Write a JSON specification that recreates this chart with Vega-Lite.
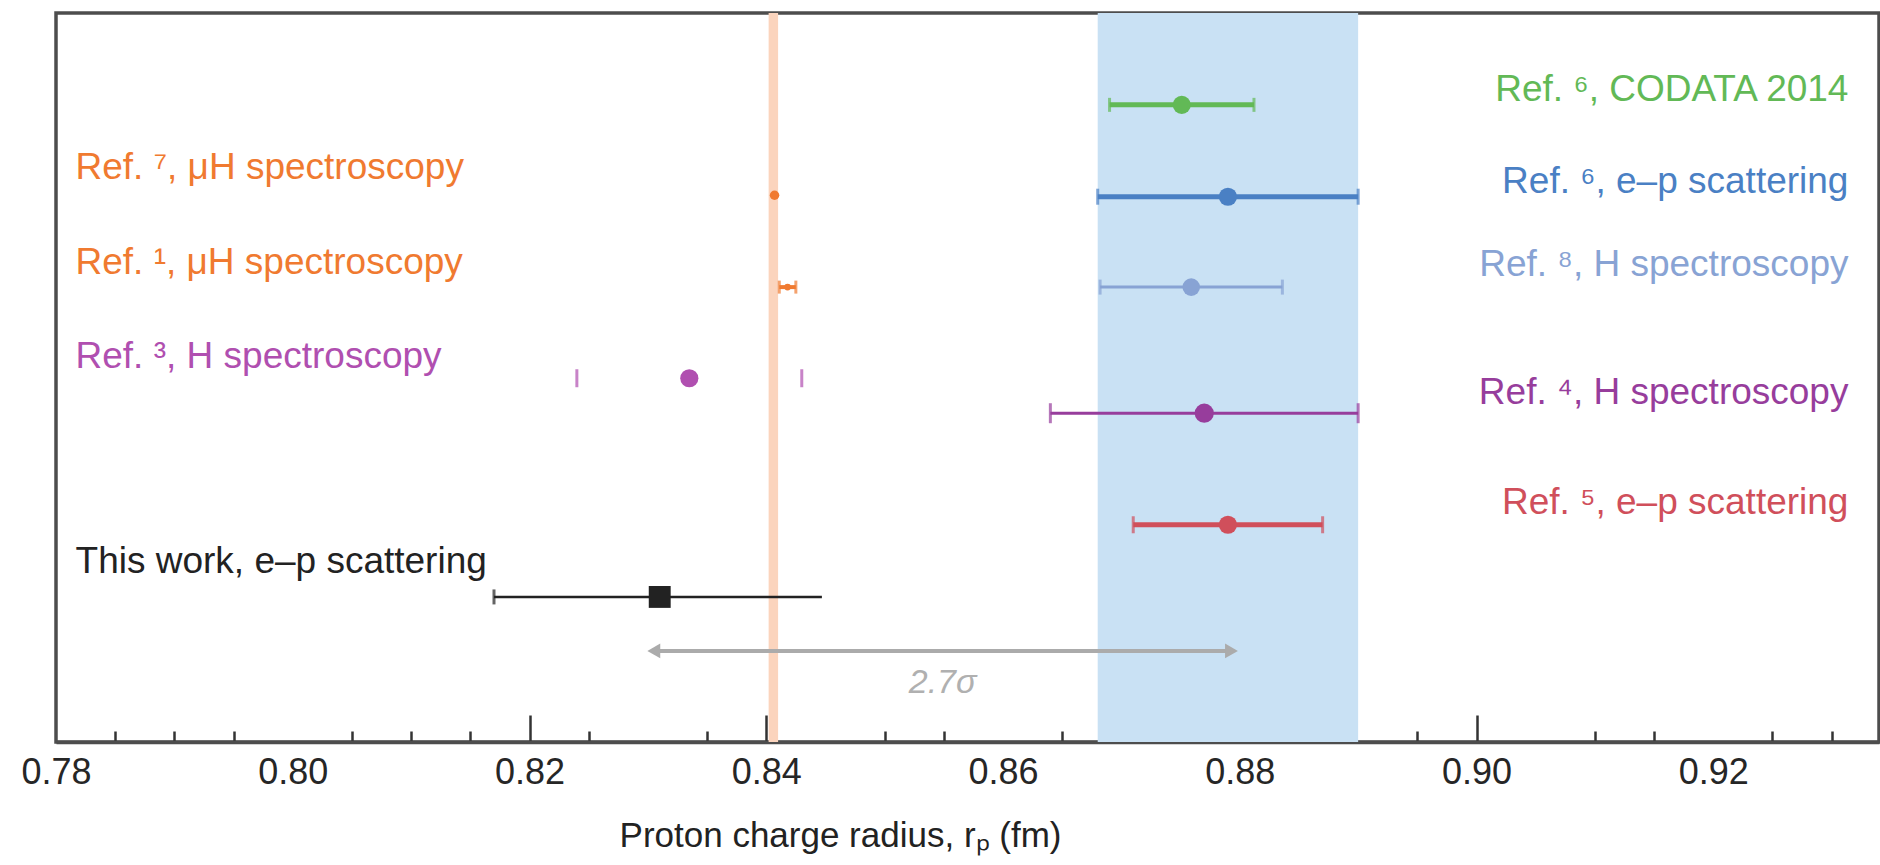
{
  "$schema": "https://vega.github.io/schema/vega-lite/v6.json",
  "width": 1823,
  "height": 729,
  "autosize": "none",
  "padding": {"left": 56, "top": 13, "right": 1, "bottom": 123},
  "background": "white",
  "config": {
    "view": {"stroke": "#4d4d4d", "strokeWidth": 3.5},
    "font": "Liberation Sans"
  },
  "datasets": {
    "bands": [
      {"name": "muH", "lo": 0.8402, "hi": 0.8410},
      {"name": "ep", "lo": 0.868, "hi": 0.890}
    ],
    "meas": [
      {"id": "codata", "label": "Ref. ⁶, CODATA 2014", "side": "right", "r": 0.8751, "lo": 0.8690, "hi": 0.8812, "row": 12.6, "labelRow": 10.6},
      {"id": "ep6", "label": "Ref. ⁶, e–p scattering", "side": "right", "r": 0.8790, "lo": 0.8680, "hi": 0.8900, "row": 25.2, "labelRow": 23.2},
      {"id": "h8", "label": "Ref. ⁸, H spectroscopy", "side": "right", "r": 0.8759, "lo": 0.8682, "hi": 0.8836, "row": 37.6, "labelRow": 34.6},
      {"id": "h4", "label": "Ref. ⁴, H spectroscopy", "side": "right", "r": 0.8770, "lo": 0.8640, "hi": 0.8900, "row": 54.9, "labelRow": 52.1},
      {"id": "ep5", "label": "Ref. ⁵, e–p scattering", "side": "right", "r": 0.8790, "lo": 0.8710, "hi": 0.8870, "row": 70.2, "labelRow": 67.2},
      {"id": "mu7", "label": "Ref. ⁷, μH spectroscopy", "side": "left", "r": 0.8407, "lo": 0.8403, "hi": 0.8411, "row": 25.0, "labelRow": 21.3},
      {"id": "mu1", "label": "Ref. ¹, μH spectroscopy", "side": "left", "r": 0.8418, "lo": 0.8411, "hi": 0.8425, "row": 37.6, "labelRow": 34.3},
      {"id": "h3", "label": "Ref. ³, H spectroscopy", "side": "left", "r": 0.8335, "lo": 0.8240, "hi": 0.8430, "row": 50.1, "labelRow": 47.2},
      {"id": "this", "label": "This work, e–p scattering", "side": "left", "r": 0.8310, "lo": 0.8170, "hi": 0.8447, "row": 80.1, "labelRow": 75.3}
    ],
    "arrowEnds": [
      {"end": "left", "x": 0.8305},
      {"end": "right", "x": 0.8793}
    ],
    "sigma": [
      {"text": "2.7σ", "x": 0.8549, "from": 0.8305, "to": 0.8793}
    ]
  },
  "resolve": {"scale": {"size": "independent", "shape": "independent", "strokeWidth": "independent"}},
  "layer": [
    {
      "data": {"name": "bands"},
      "mark": {"type": "rect"},
      "encoding": {
        "x": {
          "field": "lo", "type": "quantitative",
          "scale": {"domain": [0.78, 0.934], "nice": false, "zero": false},
          "title": "Proton charge radius, rₚ (fm)",
          "axis": {
            "values": [0.78, 0.785, 0.79, 0.795, 0.80, 0.805, 0.81, 0.815, 0.82, 0.825, 0.835, 0.84, 0.85, 0.855, 0.86, 0.865, 0.87, 0.88, 0.885, 0.895, 0.90, 0.91, 0.915, 0.92, 0.925, 0.93],
            "labelExpr": "abs(datum.value*50 - round(datum.value*50)) < 0.001 ? format(datum.value, '.2f') : ''",
            "grid": false,
            "domain": true,
            "domainColor": "#4d4d4d",
            "domainWidth": 3.5,
            "tickColor": "#333333",
            "tickWidth": 2.5,
            "tickSize": {"condition": {"test": "abs(datum.value-0.82)<0.0001 || abs(datum.value-0.84)<0.0001 || abs(datum.value-0.88)<0.0001 || abs(datum.value-0.9)<0.0001", "value": -27}, "value": -11},
            "labelPadding": {"condition": {"test": "abs(datum.value-0.82)<0.0001 || abs(datum.value-0.84)<0.0001 || abs(datum.value-0.88)<0.0001 || abs(datum.value-0.9)<0.0001", "value": 40}, "value": 24},
            "tickOpacity": {"condition": {"test": "abs(datum.value-0.78)<0.0001 || abs(datum.value-0.8)<0.0001 || abs(datum.value-0.86)<0.0001 || abs(datum.value-0.92)<0.0001", "value": 0}, "value": 1},
            "labelFontSize": 36,
            "labelColor": "#262626",
            "labelOverlap": false,
            "labelFlush": false,
            "titleFontSize": 35,
            "titleFontWeight": "normal",
            "titleColor": "#222222",
            "titlePadding": 28,
            "titleX": 784,
            "titleAlign": "center"
          }
        },
        "x2": {"field": "hi"},
        "fill": {
          "field": "name", "type": "nominal",
          "scale": {"domain": ["muH", "ep"], "range": ["#fbd4bd", "#c9e1f4"]},
          "legend": null
        }
      }
    },
    {
      "data": {"name": "sigma"},
      "mark": {"type": "rule", "color": "#ababab", "strokeWidth": 4},
      "encoding": {
        "x": {"field": "from", "type": "quantitative"},
        "x2": {"field": "to"},
        "y": {"datum": 87.5, "type": "quantitative", "scale": {"domain": [0, 100], "reverse": true, "nice": false, "zero": false}, "axis": null}
      }
    },
    {
      "data": {"name": "arrowEnds"},
      "mark": {"type": "point", "filled": true, "color": "#ababab", "opacity": 1},
      "encoding": {
        "x": {"field": "x", "type": "quantitative"},
        "y": {"datum": 87.5, "type": "quantitative"},
        "shape": {"field": "end", "type": "nominal", "scale": {"domain": ["left", "right"], "range": ["triangle-left", "triangle-right"]}, "legend": null},
        "size": {"value": 220}
      }
    },
    {
      "data": {"name": "sigma"},
      "mark": {"type": "text", "fontStyle": "italic", "fontSize": 34, "color": "#b0b0b0", "baseline": "middle", "align": "center"},
      "encoding": {
        "x": {"field": "x", "type": "quantitative"},
        "y": {"datum": 91.9, "type": "quantitative"},
        "text": {"field": "text"}
      }
    },
    {
      "data": {"name": "meas"},
      "transform": [{"filter": "datum.id != 'mu7' && datum.id != 'h3'"}],
      "mark": {"type": "rule"},
      "encoding": {
        "x": {"field": "lo", "type": "quantitative"},
        "x2": {"field": "hi"},
        "y": {"field": "row", "type": "quantitative"},
        "color": {
          "field": "id", "type": "nominal",
          "scale": {
            "domain": ["codata", "ep6", "h8", "h4", "ep5", "mu7", "mu1", "h3", "this"],
            "range": ["#62b956", "#4a80c4", "#88a3d4", "#973d9c", "#d04f5b", "#f07a30", "#f07a30", "#b04fb0", "#222222"]
          },
          "legend": null
        },
        "strokeWidth": {
          "field": "id", "type": "nominal",
          "scale": {
            "type": "ordinal",
            "domain": ["codata", "ep6", "h8", "h4", "ep5", "mu1", "this"],
            "range": [5, 5, 3, 3, 5, 4, 2.5]
          },
          "legend": null
        }
      }
    },
    {
      "data": {"name": "meas"},
      "transform": [{"filter": "datum.id != 'mu7'"}],
      "mark": {"type": "tick", "orient": "vertical", "thickness": 3},
      "encoding": {
        "x": {"field": "lo", "type": "quantitative"},
        "y": {"field": "row", "type": "quantitative"},
        "color": {"field": "id", "type": "nominal", "legend": null},
        "size": {
          "field": "id", "type": "nominal",
          "scale": {
            "type": "ordinal",
            "domain": ["codata", "ep6", "h8", "h4", "ep5", "mu1", "h3", "this"],
            "range": [14, 16, 15, 20, 17, 13, 18, 15]
          },
          "legend": null
        }
      }
    },
    {
      "data": {"name": "meas"},
      "transform": [{"filter": "datum.id != 'mu7' && datum.id != 'this'"}],
      "mark": {"type": "tick", "orient": "vertical", "thickness": 3},
      "encoding": {
        "x": {"field": "hi", "type": "quantitative"},
        "y": {"field": "row", "type": "quantitative"},
        "color": {"field": "id", "type": "nominal", "legend": null},
        "size": {
          "field": "id", "type": "nominal",
          "scale": {
            "type": "ordinal",
            "domain": ["codata", "ep6", "h8", "h4", "ep5", "mu1", "h3"],
            "range": [14, 16, 15, 20, 17, 13, 18]
          },
          "legend": null
        }
      }
    },
    {
      "data": {"name": "meas"},
      "mark": {"type": "point", "filled": true, "opacity": 1},
      "encoding": {
        "x": {"field": "r", "type": "quantitative"},
        "y": {"field": "row", "type": "quantitative"},
        "color": {"field": "id", "type": "nominal", "legend": null},
        "shape": {
          "field": "id", "type": "nominal",
          "scale": {
            "domain": ["codata", "ep6", "h8", "h4", "ep5", "mu7", "mu1", "h3", "this"],
            "range": ["circle", "circle", "circle", "circle", "circle", "circle", "circle", "circle", "square"]
          },
          "legend": null
        },
        "size": {
          "field": "id", "type": "nominal",
          "scale": {
            "type": "ordinal",
            "domain": ["codata", "ep6", "h8", "h4", "ep5", "mu7", "mu1", "h3", "this"],
            "range": [330, 330, 310, 370, 330, 90, 45, 330, 480]
          },
          "legend": null
        }
      }
    },
    {
      "data": {"name": "meas"},
      "transform": [{"filter": "datum.side == 'right'"}],
      "mark": {"type": "text", "align": "right", "baseline": "middle", "fontSize": 37},
      "encoding": {
        "x": {"datum": 0.93142, "type": "quantitative"},
        "y": {"field": "labelRow", "type": "quantitative"},
        "text": {"field": "label"},
        "color": {"field": "id", "type": "nominal", "legend": null}
      }
    },
    {
      "data": {"name": "meas"},
      "transform": [{"filter": "datum.side == 'left'"}],
      "mark": {"type": "text", "align": "left", "baseline": "middle", "fontSize": 37},
      "encoding": {
        "x": {"datum": 0.78165, "type": "quantitative"},
        "y": {"field": "labelRow", "type": "quantitative"},
        "text": {"field": "label"},
        "color": {"field": "id", "type": "nominal", "legend": null}
      }
    }
  ]
}
